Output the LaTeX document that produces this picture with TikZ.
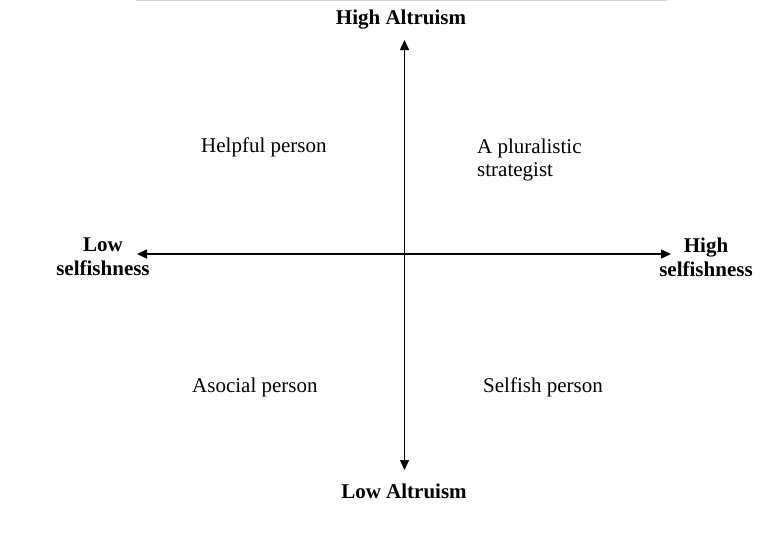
\documentclass[tikz,border=0pt]{standalone}
\usepackage{fontspec}
\setmainfont{Liberation Serif}
\usetikzlibrary{arrows.meta}
\begin{document}
\begin{tikzpicture}[x=1pt,y=-1pt,
  axis/.style={line width=1.5pt,{Triangle[length=10pt,width=9pt]}-{Triangle[length=10pt,width=9pt]}},
  lbl/.style={font=\fontsize{21}{24}\selectfont\bfseries,align=center,inner sep=0pt},
  quad/.style={font=\fontsize{21}{23}\selectfont,align=left,inner sep=0pt,anchor=base west}]
\useasboundingbox (0,0) rectangle (780,533);
\draw[gray!35,line width=1.2pt] (136,0.6) -- (667,0.6);
\coordinate (top) at (404.5,40);
\coordinate (bot) at (404.5,470);
\coordinate (lft) at (137,254);
\coordinate (rgt) at (671,254);
\draw[axis] (bot) -- (top);
\draw[axis] (lft) -- (rgt);
\node[lbl,anchor=base] (ha) at (401,24) {High Altruism};
\node[lbl,anchor=base] (la) at (404,498) {Low Altruism};
\node[lbl] (ls) at (103,257) {Low\\selfishness};
\node[lbl] (hs) at (706,257) {High\\selfishness};
\node[quad] (hp) at (201,152) {Helpful person};
\node[quad] (ps) at (477,176) {A pluralistic\\strategist};
\node[quad] (ap) at (192,392) {Asocial person};
\node[quad] (sp) at (483,392) {Selfish person};
\end{tikzpicture}
\end{document}
